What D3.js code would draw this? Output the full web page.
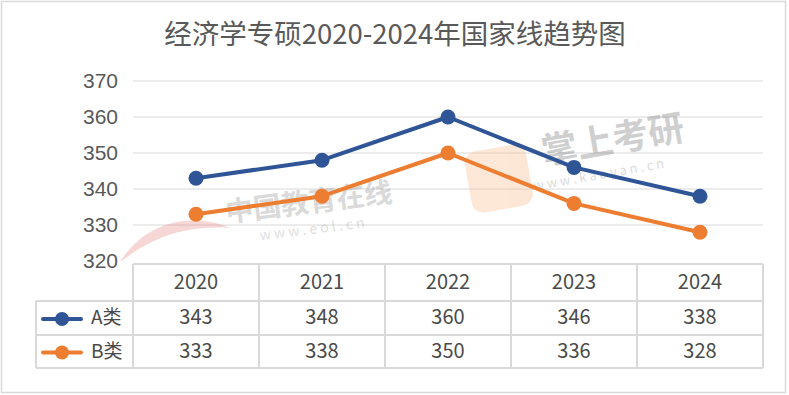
<!DOCTYPE html>
<html>
<head>
<meta charset="UTF-8">
<script src="https://d3js.org/d3.v7.min.js"></script>
<style>
    body { margin: 0; background: #fff; }
    svg { display: block; font-family: "Noto Sans CJK SC", "Noto Sans", sans-serif; }
</style>
</head>
<body>
<div id="chart"></div>
<script>
    const title = "经济学专硕2020-2024年国家线趋势图";
    const years = ["2020", "2021", "2022", "2023", "2024"];
    const seriesNames = ["A类", "B类"];
    const seriesA = [343, 348, 360, 346, 338];
    const seriesB = [333, 338, 350, 336, 328];
    const yTicks = [320, 330, 340, 350, 360, 370];
    const colors = ["#2F5597", "#ED7D31"];

    let width = 789, height = 395;

    let svg = d3.select("#chart").append("svg")
        .attr("width", width)
        .attr("height", height)

    // outer frame
    svg.append("rect")
        .attr("x", 1.5).attr("y", 1.5)
        .attr("width", width - 5).attr("height", height - 4)
        .style("fill", "white")
        .style("stroke", "#d9d9d9")
        .style("stroke-width", 1.5)

    let x = d3.scaleBand().domain(years).range([133, 763])
    let y = d3.scaleLinear().domain([320, 370]).range([261, 81])

    svg.append("text")
        .attr("x", 395).attr("y", 37)
        .text(title)
        .style("font-size", "27.5px")
        .style("fill", "#595959")
        .style("text-anchor", "middle")
        .style("dominant-baseline", "middle")

    // gridlines
    svg.append("g").selectAll("line")
        .data(yTicks.slice(1))
        .join("line")
        .attr("x1", 133).attr("x2", 763)
        .attr("y1", d => y(d)).attr("y2", d => y(d))
        .style("stroke", "#e6e6e6")
        .style("stroke-width", 1.5)

    // y axis labels
    let yAxis = d3.axisLeft(y).tickValues(yTicks).tickSize(0).tickPadding(0)
    let gy = svg.append("g").attr("transform", "translate(118,0)").call(yAxis)
    gy.select(".domain").remove()
    gy.selectAll("text")
        .style("font-size", "21px")
        .style("fill", "#595959")
        .style("font-family", "Liberation Sans, Arial, sans-serif")

    // watermarks
    let wm1 = svg.append("g").attr("transform", "translate(310,212) rotate(-7)").style("opacity", 0.3)
    wm1.append("text").text("中国教育在线")
        .attr("text-anchor", "middle")
        .style("font-size", "28px").style("font-weight", "bold").style("fill", "#888")
    wm1.append("text").text("w w w . e o l . c n").attr("y", 22)
        .attr("text-anchor", "middle")
        .style("font-size", "14px").style("fill", "#999")
    svg.append("path")
        .attr("d", "M120,262 C150,215 200,215 230,228 C180,225 150,240 120,262 Z")
        .style("fill", "#e88a8a").style("opacity", 0.35)

    let wm2 = svg.append("g").attr("transform", "translate(615,152) rotate(-10)").style("opacity", 0.35)
    wm2.append("rect").attr("x", -150).attr("y", -25).attr("width", 62).attr("height", 62).attr("rx", 12)
        .style("fill", "#f8b98a")
    wm2.append("text").text("掌上考研")
        .attr("text-anchor", "middle")
        .style("font-size", "36px").style("font-weight", "bold").style("fill", "#777")
    wm2.append("text").text("w w w . k a o y a n . c n").attr("x", -20).attr("y", 24)
        .attr("text-anchor", "middle")
        .style("font-size", "13px").style("fill", "#999")

    // lines
    let line = d3.line().x((d, i) => x(years[i]) + x.bandwidth() / 2).y(d => y(d))
    let series = [seriesA, seriesB]
    series.forEach((vals, k) => {
        svg.append("path")
            .attr("d", line(vals))
            .style("fill", "none")
            .style("stroke", colors[k])
            .style("stroke-width", 4)
            .style("stroke-linejoin", "round")
        svg.append("g").selectAll("circle")
            .data(vals)
            .join("circle")
            .attr("cx", (d, i) => x(years[i]) + x.bandwidth() / 2)
            .attr("cy", d => y(d))
            .attr("r", 7.5)
            .style("fill", colors[k])
    })

    // data table
    let rows = [264, 301, 335, 368]
    let legendLeft = 36
    let grid = svg.append("g").style("stroke", "#d9d9d9").style("stroke-width", 2)
    grid.append("line").attr("x1", 133).attr("x2", 763).attr("y1", rows[0]).attr("y2", rows[0])
    rows.slice(1).forEach(r => {
        grid.append("line").attr("x1", legendLeft).attr("x2", 763).attr("y1", r).attr("y2", r)
    })
    grid.append("line").attr("x1", legendLeft).attr("x2", legendLeft).attr("y1", rows[1]).attr("y2", rows[3])
    x.domain().forEach(yr => {
        grid.append("line").attr("x1", x(yr)).attr("x2", x(yr)).attr("y1", rows[0]).attr("y2", rows[3])
    })
    grid.append("line").attr("x1", 763).attr("x2", 763).attr("y1", rows[0]).attr("y2", rows[3])

    svg.append("g").selectAll("text")
        .data(years)
        .join("text")
        .attr("x", d => x(d) + x.bandwidth() / 2)
        .attr("y", (rows[0] + rows[1]) / 2 + 1)
        .text(d => d)
        .style("font-size", "20px")
        .style("fill", "#4a4a4a")
        .style("text-anchor", "middle")
        .style("dominant-baseline", "middle")

    series.forEach((vals, k) => {
        let cy = (rows[k + 1] + rows[k + 2]) / 2 + 1
        svg.append("line")
            .attr("x1", 43).attr("x2", 81).attr("y1", cy).attr("y2", cy)
            .style("stroke", colors[k]).style("stroke-width", 4).style("stroke-linecap", "round")
        svg.append("circle").attr("cx", 62).attr("cy", cy).attr("r", 7).style("fill", colors[k])
        svg.append("text")
            .attr("x", 91).attr("y", cy)
            .text(seriesNames[k])
            .style("font-size", "19px")
            .style("fill", "#4a4a4a")
            .style("dominant-baseline", "middle")
        svg.append("g").selectAll("text")
            .data(vals)
            .join("text")
            .attr("x", (d, i) => x(years[i]) + x.bandwidth() / 2)
            .attr("y", cy)
            .text(d => d)
            .style("font-size", "20px")
            .style("fill", "#4a4a4a")
            .style("text-anchor", "middle")
            .style("dominant-baseline", "middle")
    })
</script>
</body>
</html>
